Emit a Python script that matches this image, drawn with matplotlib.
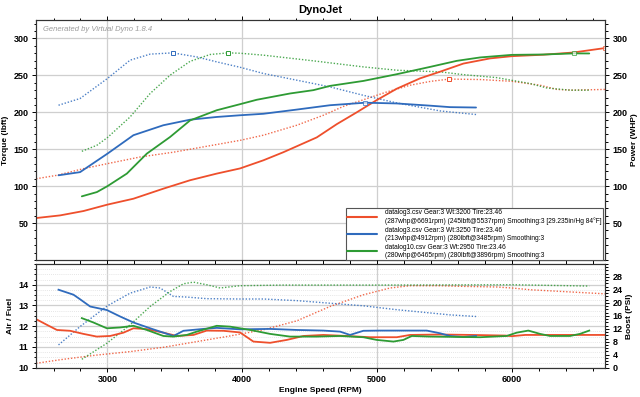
import numpy as np
import matplotlib
matplotlib.use("Agg")
import matplotlib.pyplot as plt
from matplotlib.ticker import MultipleLocator

plt.rcParams['font.family'] = ['Liberation Sans', 'DejaVu Sans']

# ---- top panel: power (solid, right axis) and torque (dotted, left axis)
red_pw_rpm = [2471, 2649, 2822, 3000, 3193, 3415, 3613, 3811, 3984, 4157, 4306, 4553, 4702,
              4850, 4993, 5147, 5320, 5468, 5641, 5839, 6000, 6234, 6457, 6691]
red_pw = [56.8, 60.4, 66.3, 75, 83, 96.6, 108, 117, 124, 135, 146, 166, 184,
          200, 216, 232, 246, 255, 266, 273, 276, 278, 281, 287]
red_tq_rpm = [2471, 2625, 2822, 3000, 3243, 3490, 3737, 3984, 4157, 4405, 4602, 4751, 4899,
              5073, 5246, 5400, 5537, 5765, 6000, 6210, 6334, 6457, 6691]
red_tq = [110, 114.7, 123.7, 130.5, 139.5, 146, 154, 162, 169, 182.5, 196, 208, 217,
          227.6, 236.7, 242, 245, 244.4, 242, 236.7, 231, 230, 231]

blue_pw_rpm = [2637, 2797, 3000, 3193, 3415, 3613, 3811, 3984, 4157, 4405, 4652, 4912,
               5147, 5394, 5542, 5735]
blue_pw = [114.7, 119, 144, 169, 182.5, 190, 193.7, 196, 198, 203.7, 209.6, 213,
           212, 209, 207, 206.5]
blue_tq_rpm = [2637, 2797, 3000, 3168, 3317, 3485, 3663, 3811, 3984, 4157, 4405, 4652,
               4899, 5147, 5468, 5542, 5735]
blue_tq = [209.6, 218.7, 245.8, 270.6, 278.8, 280.5, 275, 268.3, 261, 252.6, 243.5, 234.4,
           223, 212.7, 201.9, 200.5, 197]

green_pw_rpm = [2810, 2922, 3000, 3144, 3292, 3465, 3613, 3811, 3984, 4108, 4355, 4528, 4652,
                4899, 5147, 5394, 5592, 5765, 6000, 6234, 6465, 6575]
green_pw = [86.2, 92, 100, 117, 144, 166.6, 189, 202.8, 211, 217, 225.5, 230, 235.8,
            242.5, 251.6, 261.5, 269.7, 274.3, 277.8, 278.3, 279.8, 279.7]
green_tq_rpm = [2810, 2922, 3000, 3168, 3317, 3465, 3613, 3762, 3896, 3984, 4157, 4528,
                4899, 5147, 5468, 5641, 5888, 6135, 6259, 6432, 6575]
green_tq = [147.2, 155.4, 165.8, 193.7, 225.5, 250.3, 269, 278.3, 280.5, 280, 277.4, 269.7,
            261.5, 257, 254.8, 251, 247, 239, 233, 230, 230]

# ---- bottom panel: air/fuel (solid, left) and boost (dotted, right)
red_afr_rpm = [2471, 2550, 2625, 2723, 2822, 2921, 3020, 3119, 3193, 3292, 3415, 3515, 3638,
               3737, 3860, 3984, 4083, 4207, 4331, 4454, 4602, 4776, 4949, 5147, 5246, 5468,
               5700, 5950, 6000, 6100, 6691]
red_afr = [12.34, 12.07, 11.82, 11.78, 11.63, 11.5, 11.53, 11.69, 11.9, 11.86, 11.69, 11.53, 11.58,
           11.79, 11.78, 11.7, 11.26, 11.2, 11.34, 11.53, 11.58, 11.53, 11.47, 11.47, 11.58, 11.6,
           11.58, 11.55, 11.52, 11.58, 11.58]
blue_afr_rpm = [2637, 2748, 2797, 2872, 2996, 3094, 3193, 3317, 3415, 3490, 3564, 3712, 3811,
                3984, 4207, 4405, 4602, 4726, 4800, 4899, 5023, 5369, 5468, 5542, 5641, 5735]
blue_afr = [13.76, 13.52, 13.3, 12.95, 12.78, 12.47, 12.18, 11.9, 11.69, 11.53, 11.78, 11.87, 11.92,
            11.85, 11.87, 11.82, 11.79, 11.74, 11.58, 11.78, 11.79, 11.79, 11.66, 11.53, 11.48, 11.53]
green_afr_rpm = [2810, 2896, 2996, 3094, 3193, 3292, 3415, 3490, 3589, 3663, 3811, 3910, 4059,
                 4207, 4355, 4553, 4726, 4899, 4998, 5122, 5196, 5258, 5394, 5765, 5962, 6037,
                 6123, 6210, 6284, 6432, 6506, 6575]
green_afr = [12.39, 12.18, 11.9, 11.94, 12.02, 11.82, 11.53, 11.5, 11.58, 11.74, 12.02, 11.98, 11.82,
             11.63, 11.5, 11.5, 11.53, 11.47, 11.34, 11.26, 11.34, 11.53, 11.5, 11.47, 11.53, 11.69,
             11.79, 11.63, 11.53, 11.53, 11.63, 11.79]

red_bst_rpm = [2471, 2674, 2921, 3168, 3415, 3663, 3910, 4157, 4405, 4652, 4899, 5097, 5246,
               5468, 5641, 5888, 6000, 6135, 6382, 6691]
red_bst = [1.36, 2.6, 3.9, 4.96, 6.3, 8.05, 9.8, 11.7, 14.46, 18.9, 22.5, 24.6, 25.3,
           25.3, 25.1, 24.9, 24.6, 24.06, 23.5, 22.8]
blue_bst_rpm = [2637, 2797, 3000, 3168, 3317, 3391, 3490, 3589, 3737, 3984, 4157, 4405, 4652,
                4899, 5147, 5394, 5542, 5735]
blue_bst = [7.03, 12.7, 19.1, 23.0, 24.9, 24.6, 22.0, 21.8, 21.3, 21.2, 21.2, 20.7, 19.9,
            19.1, 17.9, 16.9, 16.3, 15.8]
green_bst_rpm = [2810, 2996, 3168, 3317, 3465, 3564, 3638, 3737, 3836, 3984, 4300, 5000, 6000, 6575]
green_bst = [2.6, 7.55, 13.2, 18.9, 23.5, 25.9, 26.4, 25.6, 24.6, 25.3, 25.5, 25.5, 25.6, 25.2]

legend_labels = [
    "datalog3.csv Gear:3 Wt:3200 Tire:23.46\n(287whp@6691rpm) (245lbft@5537rpm) Smoothing:3 [29.235in/Hg 84°F]",
    "datalog3.csv Gear:3 Wt:3250 Tire:23.46\n(213whp@4912rpm) (280lbft@3485rpm) Smoothing:3",
    "datalog10.csv Gear:3 Wt:2950 Tire:23.46\n(280whp@6465rpm) (280lbft@3896rpm) Smoothing:3",
]

RED, BLUE, GREEN = '#ee4f2c', '#2f6bbd', '#2e9b34'
DOT = (0, (1, 1.3))
XMIN, XMAX = 2470, 6692

fig = plt.figure(figsize=(6.4, 3.97), dpi=100)
fig.text(0.5, 0.976, "DynoJet", ha='center', va='center', fontsize=8, fontweight='bold')

ax_tq = fig.add_axes([0.05625, 0.3451, 0.8891, 0.6045])
ax_pw = ax_tq.twinx()
ax_afr = fig.add_axes([0.05625, 0.0738, 0.8891, 0.2612])
ax_bst = ax_afr.twinx()


def style(ax, minor_y):
    ax.set_xlim(XMIN, XMAX)
    ax.xaxis.set_major_locator(MultipleLocator(1000))
    ax.xaxis.set_minor_locator(MultipleLocator(200))
    ax.yaxis.set_minor_locator(MultipleLocator(minor_y))
    ax.tick_params(which='both', labelsize=6.5, width=0.7, top=True, direction='out', pad=2.5)
    ax.tick_params(which='major', length=3)
    ax.tick_params(which='minor', length=1.8)
    for lab in ax.get_xticklabels() + ax.get_yticklabels():
        lab.set_fontweight('bold')
    for sp in ax.spines.values():
        sp.set_linewidth(0.8)
        sp.set_color('#333333')


# top panel
ax_tq.set_ylim(0, 325)
ax_pw.set_ylim(0, 325)
for ax in (ax_tq, ax_pw):
    ax.set_yticks([50, 100, 150, 200, 250, 300])
    style(ax, 10)
ax_tq.grid(True, which='major', color='#cfcfcf', linewidth=0.9)
ax_tq.set_axisbelow(True)
ax_tq.tick_params(labelbottom=False)
ax_pw.tick_params(labelbottom=False)
ax_tq.set_ylabel("Torque (lbft)", fontsize=6, fontweight='bold', labelpad=3)
ax_pw.set_ylabel("Power (WHP)", fontsize=6, fontweight='bold', labelpad=2)

series_top = [
    (red_pw_rpm, red_pw, red_tq_rpm, red_tq, RED),
    (blue_pw_rpm, blue_pw, blue_tq_rpm, blue_tq, BLUE),
    (green_pw_rpm, green_pw, green_tq_rpm, green_tq, GREEN),
]
handles = []
for pr, pv, tr, tv, c in series_top:
    h, = ax_pw.plot(pr, pv, color=c, lw=1.3, solid_capstyle='round')
    handles.append(h)
    ax_tq.plot(tr, tv, color=c, lw=1.0, ls=DOT, alpha=0.85)
    i = int(np.argmax(tv))
    ax_tq.plot(tr[i], tv[i], marker='s', ms=3, mfc='white', mec=c, mew=0.7)
    j = int(np.argmax(pv))
    ax_pw.plot(pr[j], pv[j], marker='s', ms=3, mfc='white', mec=c, mew=0.7, alpha=0.7)

ax_tq.text(0.012, 0.975, "Generated by Virtual Dyno 1.8.4", transform=ax_tq.transAxes,
           fontsize=5.5, style='italic', color='#9a9a9a', ha='left', va='top')

leg = ax_pw.legend(handles, legend_labels, loc='lower right', bbox_to_anchor=(0.997, 0.0),
                   fontsize=4.8, labelspacing=0.3, handlelength=4.4, handletextpad=1.3,
                   borderpad=0.2, borderaxespad=0.0, fancybox=False, framealpha=1)
leg.get_frame().set_edgecolor('#555555')
leg.get_frame().set_linewidth(0.8)
for line in leg.get_lines():
    line.set_linewidth(1.5)

# bottom panel
ax_afr.set_ylim(10, 15)
ax_bst.set_ylim(0, 32)
ax_afr.set_yticks([10, 11, 12, 13, 14])
ax_bst.set_yticks([0, 4, 8, 12, 16, 20, 24, 28])
style(ax_afr, 0.25)
style(ax_bst, 1)
ax_afr.grid(True, which='major', color='#cfcfcf', linewidth=0.9)
ax_afr.grid(True, which='minor', axis='y', color='#dddddd', linewidth=0.6, ls=(0, (1, 1.5)))
ax_afr.set_axisbelow(True)
ax_afr.set_ylabel("Air / Fuel", fontsize=6, fontweight='bold', labelpad=3)
ax_bst.set_ylabel("Boost (PSI)", fontsize=6, fontweight='bold', labelpad=2)
ax_afr.set_xlabel("Engine Speed (RPM)", fontsize=6, fontweight='bold', labelpad=2)

for r, v, c in [(red_bst_rpm, red_bst, RED), (blue_bst_rpm, blue_bst, BLUE),
                (green_bst_rpm, green_bst, GREEN)]:
    ax_bst.plot(r, v, color=c, lw=1.0, ls=DOT, alpha=0.85)
for r, v, c in [(red_afr_rpm, red_afr, RED), (blue_afr_rpm, blue_afr, BLUE),
                (green_afr_rpm, green_afr, GREEN)]:
    ax_bst.plot(r, (np.array(v) - 10) * 32 / 5, color=c, lw=1.3)

fig.savefig("out.png", dpi=100)
